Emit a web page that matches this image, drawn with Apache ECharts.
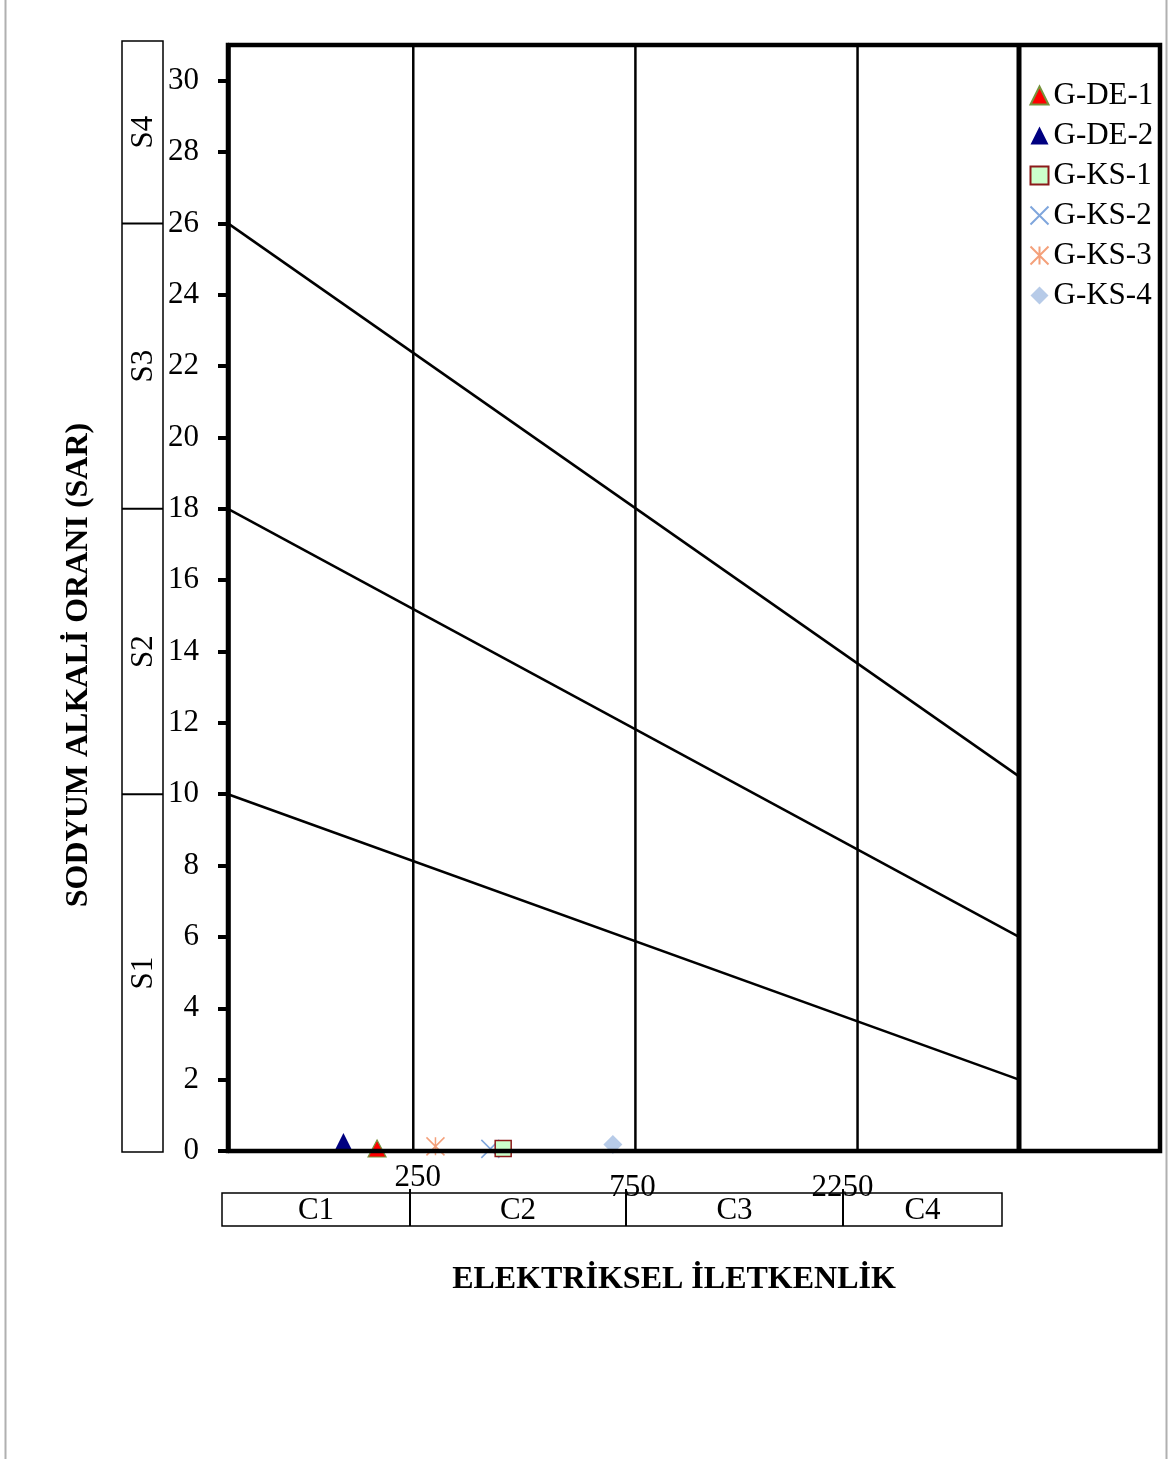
<!DOCTYPE html>
<html><head><meta charset="utf-8">
<script src="https://cdn.jsdelivr.net/npm/echarts@6/dist/echarts.min.js"></script>
<style>html,body{margin:0;padding:0;background:#fff}#c{width:1169px;height:1459px}</style>
</head><body><div id="c"></div>
<script>
// ---------------- data ----------------
const sampleNames = ['G-DE-1', 'G-DE-2', 'G-KS-1', 'G-KS-2', 'G-KS-3', 'G-KS-4'];
const sampleEC = [209, 177, 390, 366, 279, 671];
const sampleSAR = [0.07, 0.28, 0.07, 0.06, 0.13, 0.18];

const ecLimits = [100, 5000];
const ecClassBreaks = [250, 750, 2250];
const ecTickLabels = ['250', '750', '2250'];
const sarMax = 31;
const sarTicks = [0, 2, 4, 6, 8, 10, 12, 14, 16, 18, 20, 22, 24, 26, 28, 30];
const sarLineStart = [26, 18, 10];   // SAR at EC = 100
const sarLineEnd = [10.5, 6, 2];     // SAR at EC = 5000
const sClassBounds = [26, 18, 10];
const sClassLabels = ['S4', 'S3', 'S2', 'S1'];
const cClassLabels = ['C1', 'C2', 'C3', 'C4'];
const xTitle = 'ELEKTRİKSEL İLETKENLİK';
const yTitle = 'SODYUM ALKALİ ORANI (SAR)';

// ---------------- styles ----------------
const FONT = "'Liberation Serif','Times New Roman',serif";
const markerStyles = [
  { symbol: 'triangle', symbolSize: [18, 17], itemStyle: { color: '#ff0000', borderColor: '#77933c', borderWidth: 1.2, opacity: 1 }, z: 3 },
  { symbol: 'triangle', symbolSize: [16, 16], itemStyle: { color: '#000080', opacity: 1 }, z: 3 },
  { symbol: 'rect', symbolSize: 16, itemStyle: { color: '#ccffcc', borderColor: '#8b1a1a', borderWidth: 1.5, opacity: 1 }, z: 5 },
  { symbol: 'path://M0,0L10,10M10,0L0,10', symbolSize: 18, itemStyle: { color: 'none', borderColor: '#7fa6dc', borderWidth: 1.5, opacity: 1 }, z: 4 },
  { symbol: 'path://M0,0L10,10M10,0L0,10M5,0L5,10', symbolSize: 18, itemStyle: { color: 'none', borderColor: '#f4a07a', borderWidth: 1.5, opacity: 1 }, z: 4 },
  { symbol: 'diamond', symbolSize: 19, itemStyle: { color: '#b7cbe8', opacity: 1 }, z: 3 }
];

const GRID = { left: 228, top: 45, width: 791, height: 1106 };

const chart = echarts.init(document.getElementById('c'), null, { renderer: 'canvas' });

const series = [];
// SAR/EC hazard boundary lines
sarLineStart.forEach((s, i) => {
  series.push({
    type: 'line', silent: true, symbol: 'none', z: 2,
    data: [[ecLimits[0], s], [ecLimits[1], sarLineEnd[i]]],
    lineStyle: { color: '#000', width: 2.5 }
  });
});
// EC class vertical lines
ecClassBreaks.forEach(v => {
  series.push({
    type: 'line', silent: true, symbol: 'none', z: 2,
    data: [[v, 0], [v, sarMax]],
    lineStyle: { color: '#000', width: 2.5 }
  });
});
// right edge of diagram (EC = 5000)
series.push({
  type: 'line', silent: true, symbol: 'none', z: 2,
  data: [[ecLimits[1], 0], [ecLimits[1], sarMax]],
  lineStyle: { color: '#000', width: 5 }
});
// samples
sampleNames.forEach((n, i) => {
  const st = markerStyles[i];
  series.push({
    type: 'scatter', name: n,
    data: [[sampleEC[i], sampleSAR[i]]],
    symbol: st.symbol, symbolSize: st.symbolSize, itemStyle: st.itemStyle, z: st.z
  });
});

chart.setOption({
  animation: false,
  backgroundColor: '#fff',
  grid: GRID,
  xAxis: {
    type: 'log', logBase: 10, min: ecLimits[0], max: ecLimits[1],
    axisLine: { show: false }, axisTick: { show: false }, axisLabel: { show: false }, splitLine: { show: false }
  },
  yAxis: {
    type: 'value', min: 0, max: sarMax, interval: 2,
    axisLine: { show: true, lineStyle: { color: '#000', width: 4.5 } },
    axisTick: { show: true, customValues: sarTicks, length: 10, lineStyle: { color: '#000', width: 4 } },
    axisLabel: { customValues: sarTicks, margin: 29, color: '#000', fontSize: 31, fontFamily: FONT },
    splitLine: { show: false }
  },
  legend: {
    data: sampleNames, orient: 'vertical', left: 1023, top: 75,
    itemWidth: 18, itemHeight: 18, itemGap: 9,
    textStyle: { color: '#000', fontSize: 31, fontFamily: FONT, lineHeight: 31 }
  },
  series: series
});

// ---------------- decorations (layout) ----------------
const toPx = (x, y) => chart.convertToPixel({ gridIndex: 0 }, [x, y]);
const g = [];
// page border lines
g.push({ type: 'line', shape: { x1: 5.5, y1: 0, x2: 5.5, y2: 1459 }, style: { stroke: '#b0b0b0', lineWidth: 2 } });
g.push({ type: 'line', shape: { x1: 1166.5, y1: 0, x2: 1166.5, y2: 1459 }, style: { stroke: '#b0b0b0', lineWidth: 2 } });
// outer frame
g.push({ type: 'rect', z: 10, shape: { x: 228, y: 45, width: 932, height: 1106 }, style: { fill: 'none', stroke: '#000', lineWidth: 4.5 } });

// S class box
const sBoxX = 122, sBoxW = 41, sBoxTop = 41, sBoxBottom = 1152;
g.push({ type: 'rect', shape: { x: sBoxX, y: sBoxTop, width: sBoxW, height: sBoxBottom - sBoxTop }, style: { fill: 'none', stroke: '#000', lineWidth: 1.5 } });
const sEdges = [sBoxTop].concat(sClassBounds.map(v => toPx(ecLimits[0], v)[1])).concat([sBoxBottom]);
sClassBounds.forEach((v, i) => {
  const y = sEdges[i + 1];
  g.push({ type: 'line', shape: { x1: sBoxX, y1: y, x2: sBoxX + sBoxW, y2: y }, style: { stroke: '#000', lineWidth: 2 } });
});
sClassLabels.forEach((t, i) => {
  const cy = (sEdges[i] + sEdges[i + 1]) / 2;
  g.push({ type: 'text', x: 144, y: cy, rotation: Math.PI / 2,
    style: { text: t, font: '31px ' + FONT, fill: '#000', textAlign: 'center', textVerticalAlign: 'middle' } });
});

// C class box
const cEdges = [222, 410, 626, 843, 1002];
const cTop = 1193, cBottom = 1226;
g.push({ type: 'rect', shape: { x: cEdges[0], y: cTop, width: cEdges[4] - cEdges[0], height: cBottom - cTop }, style: { fill: 'none', stroke: '#000', lineWidth: 1.5 } });
for (let i = 1; i < cEdges.length - 1; i++) {
  g.push({ type: 'line', shape: { x1: cEdges[i], y1: cTop - 4, x2: cEdges[i], y2: cBottom }, style: { stroke: '#000', lineWidth: 2 } });
}
cClassLabels.forEach((t, i) => {
  g.push({ type: 'text', x: (cEdges[i] + cEdges[i + 1]) / 2, y: (cTop + cBottom) / 2 + 1,
    style: { text: t, font: '31px ' + FONT, fill: '#000', textAlign: 'center', textVerticalAlign: 'middle' } });
});

// x tick labels (positioned from the log scale)
const xLabelShift = [[4.5, 1178], [-3, 1188], [-15, 1188]];
ecClassBreaks.forEach((v, i) => {
  const px = toPx(v, 0)[0];
  g.push({ type: 'text', z: 20, x: px + xLabelShift[i][0], y: xLabelShift[i][1],
    style: { text: ecTickLabels[i], font: '31px ' + FONT, fill: '#000', textAlign: 'center', textVerticalAlign: 'middle' } });
});

// axis titles
g.push({ type: 'text', x: 674, y: 1280,
  style: { text: xTitle, font: 'bold 32px ' + FONT, fill: '#000', textAlign: 'center', textVerticalAlign: 'middle' } });
g.push({ type: 'text', x: 79, y: 665, rotation: Math.PI / 2,
  style: { text: yTitle, font: 'bold 32px ' + FONT, fill: '#000', textAlign: 'center', textVerticalAlign: 'middle' } });

chart.setOption({ graphic: g });
</script>
</body></html>
